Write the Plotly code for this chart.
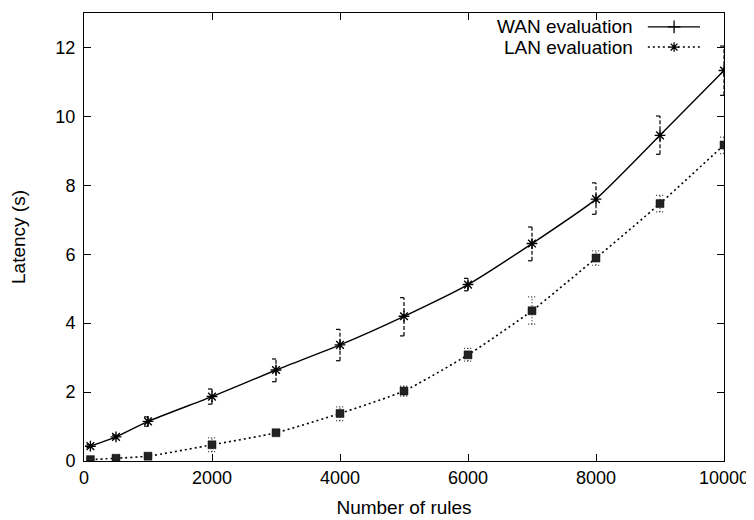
import plotly.graph_objects as go

# ---- data ----
rules = [100, 500, 1000, 2000, 3000, 4000, 5000, 6000, 7000, 8000, 9000, 10000]
wan_mean = [0.43, 0.70, 1.15, 1.87, 2.64, 3.37, 4.20, 5.12, 6.31, 7.60, 9.45, 11.33]
wan_low = [0.39, 0.65, 1.01, 1.65, 2.30, 2.91, 3.63, 4.94, 5.81, 7.16, 8.90, 10.61]
wan_high = [0.47, 0.75, 1.28, 2.09, 2.96, 3.82, 4.74, 5.30, 6.79, 8.07, 10.01, 12.04]
lan_mean = [0.04, 0.08, 0.14, 0.47, 0.82, 1.38, 2.03, 3.08, 4.36, 5.89, 7.47, 9.17]
lan_low = [0.01, 0.04, 0.08, 0.27, 0.74, 1.17, 1.88, 2.90, 3.97, 5.68, 7.23, 8.92]
lan_high = [0.08, 0.13, 0.22, 0.67, 0.90, 1.57, 2.17, 3.27, 4.76, 6.10, 7.71, 9.40]

x_ticks = [0, 2000, 4000, 6000, 8000, 10000]
x_tick_text = ["0", "2000", "4000", "6000", "8000", "10000"]
y_ticks = [0, 2, 4, 6, 8, 10, 12]
series_names = ["WAN evaluation", "LAN evaluation"]

FONT = "Liberation Sans, Arial, Helvetica, sans-serif"


def error_segments(xs, lo, hi, cap_left, cap_right):
    px, py = [], []
    for x, a, b in zip(xs, lo, hi):
        px += [x, x, None]
        py += [a, b, None]
        for v in (a, b):
            px += [x - cap_left, x + cap_right, None]
            py += [v, v, None]
    return px, py


fig = go.Figure()

# WAN error bars (dashed)
ex, ey = error_segments(rules, wan_low, wan_high, 62, 0)
fig.add_trace(go.Scatter(x=ex, y=ey, mode="lines", showlegend=False, hoverinfo="skip",
                         line=dict(color="black", width=1.2, dash="4px,2px")))
# LAN error bars (dotted)
ex, ey = error_segments(rules, lan_low, lan_high, 60, 60)
fig.add_trace(go.Scatter(x=ex, y=ey, mode="lines", showlegend=False, hoverinfo="skip",
                         line=dict(color="#333", width=1.2, dash="1px,2px")))

# WAN line
fig.add_trace(go.Scatter(x=rules, y=wan_mean, mode="lines+markers", name=series_names[0],
                         showlegend=False,
                         line=dict(color="black", width=1.4, shape="spline", smoothing=0.5),
                         marker=dict(symbol="asterisk-open", size=9, color="black",
                                     line=dict(color="black", width=1.4))))
# LAN line
fig.add_trace(go.Scatter(x=rules, y=lan_mean, mode="lines+markers", name=series_names[1],
                         showlegend=False,
                         line=dict(color="black", width=1.6, dash="2px,3px", shape="spline", smoothing=0.5),
                         marker=dict(symbol="square", size=8, color="#222",
                                     line=dict(color="#111", width=0.5))))

# ---- manual gnuplot-style key (text then sample) ----
key_text_x = 0.861
key_rows = [0.969, 0.924]
key_line = [0.881, 0.9625]
key_mark = 0.922
fig.add_trace(go.Scatter(x=key_line, y=[key_rows[0]] * 2, xaxis="x2", yaxis="y2", mode="lines",
                         showlegend=False, hoverinfo="skip",
                         line=dict(color="black", width=1.4)))
fig.add_trace(go.Scatter(x=[key_mark], y=[key_rows[0]], xaxis="x2", yaxis="y2", mode="markers",
                         showlegend=False, hoverinfo="skip",
                         marker=dict(symbol="cross-thin-open", size=9, color="black",
                                     line=dict(color="black", width=1.3))))
fig.add_trace(go.Scatter(x=key_line, y=[key_rows[1]] * 2, xaxis="x2", yaxis="y2", mode="lines",
                         showlegend=False, hoverinfo="skip",
                         line=dict(color="black", width=1.6, dash="2px,3px")))
fig.add_trace(go.Scatter(x=[key_mark], y=[key_rows[1]], xaxis="x2", yaxis="y2", mode="markers",
                         showlegend=False, hoverinfo="skip",
                         marker=dict(symbol="asterisk-open", size=8, color="black",
                                     line=dict(color="black", width=1.3))))

annotations = []
for name, yy in zip(series_names, key_rows):
    annotations.append(dict(x=key_text_x, y=yy, xref="paper", yref="paper", text=name,
                            showarrow=False, xanchor="right", yanchor="middle",
                            font=dict(family=FONT, size=19, color="black")))

axis_common = dict(showline=True, linecolor="black", linewidth=1, mirror="ticks",
                   ticks="inside", ticklen=7, tickwidth=1, tickcolor="black",
                   showgrid=False, zeroline=False,
                   tickfont=dict(family=FONT, size=18, color="black"))

# The page body has an 8px margin, so the figure is sized/offset to compensate.
fig.update_layout(
    width=746, height=512,
    margin=dict(l=76, r=30, t=5, b=59),
    paper_bgcolor="white", plot_bgcolor="white",
    showlegend=False,
    annotations=annotations,
    xaxis=dict(range=[0, 10000], tickvals=x_ticks, ticktext=x_tick_text,
               title=dict(text="Number of rules", font=dict(family=FONT, size=19, color="black"),
                          standoff=14),
               automargin=False,
               **axis_common),
    yaxis=dict(range=[0, 13], tickvals=y_ticks,
               title=dict(text="Latency (s)", font=dict(family=FONT, size=19, color="black"),
                          standoff=27),
               automargin=False,
               ticklabelstandoff=4,
               **axis_common),
    xaxis2=dict(range=[0, 1], overlaying="x", visible=False, fixedrange=True),
    yaxis2=dict(range=[0, 1], overlaying="y", visible=False, fixedrange=True),
)

fig.write_html("out.html")
